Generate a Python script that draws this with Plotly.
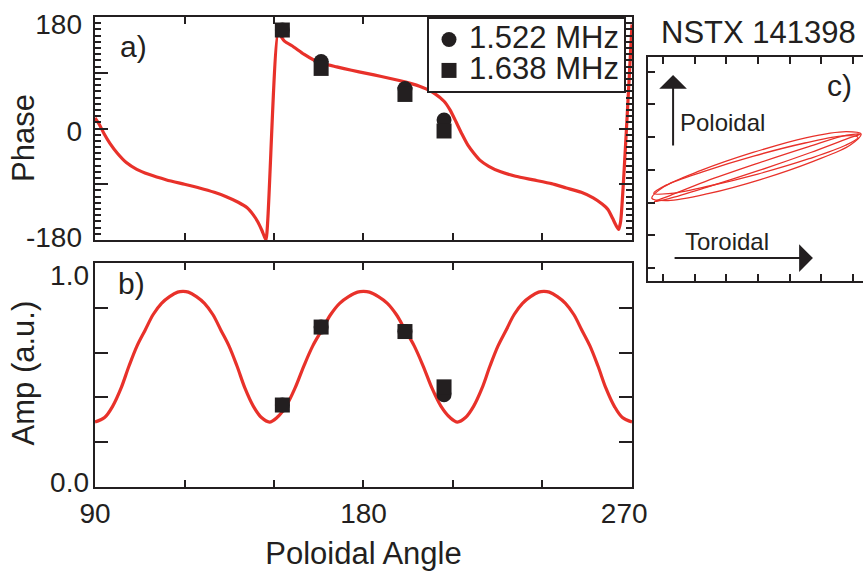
import plotly.graph_objects as go

# ---------------- data ----------------
phase_angle = [90, 91.5, 93, 95, 97.5, 100.5, 104, 108, 114, 120, 125, 130, 134, 138, 141,
               143, 144.5, 146, 147.3, 151.4, 153.5, 156.5, 160, 163.2, 167, 171, 176, 181, 186,
               192, 196, 199, 201, 204, 207, 209, 211, 213, 215, 217, 219, 222, 226, 231, 237,
               243, 248, 253, 257, 260, 262, 263.5, 264.5, 265.5, 266.2, 270]
phase_curve = [17, 6, -8, -24, -40, -55, -66, -74, -83, -90, -96, -103, -110, -119, -128,
               -139, -150, -165, -180, 154, 141, 132, 120, 111, 104, 99.5, 94, 89, 84,
               77.5, 72.5, 68, 64, 56, 44, 30, 11, -9, -27, -40, -51, -61, -70, -77, -83,
               -89, -96, -103, -112, -122, -131, -145, -155, -163, -150, 168]

amp_angle = [90, 93.2, 95.9, 98.7, 101.4, 104.1, 106.8, 109.5, 112.3, 115, 117.7, 119.5,
             121.3, 124, 126.7, 129.5, 132.2, 134.9, 137.6, 140.3, 143.1, 145.8, 148.5,
             151, 154, 157, 160, 163, 166, 169, 172, 175, 178, 180,
             182, 185, 188, 191, 194, 197, 200, 203, 206, 209, 211.5,
             214.2, 216.9, 219.7, 222.4, 225.1, 227.8, 230.5, 233.3, 236, 238.7, 240.5,
             242.3, 245, 247.7, 250.5, 253.2, 255.9, 258.6, 261.3, 264.1, 266.8, 270]
amp_curve = [0.29, 0.31, 0.36, 0.44, 0.54, 0.63, 0.70, 0.77, 0.82, 0.85, 0.87, 0.873,
             0.87, 0.85, 0.82, 0.77, 0.70, 0.63, 0.54, 0.44, 0.36, 0.31, 0.29,
             0.31, 0.36, 0.44, 0.54, 0.63, 0.70, 0.77, 0.82, 0.85, 0.87, 0.873,
             0.87, 0.85, 0.82, 0.77, 0.70, 0.63, 0.54, 0.44, 0.36, 0.31, 0.29,
             0.31, 0.36, 0.44, 0.54, 0.63, 0.70, 0.77, 0.82, 0.85, 0.87, 0.873,
             0.87, 0.85, 0.82, 0.77, 0.70, 0.63, 0.54, 0.44, 0.36, 0.31, 0.29]

series_names = ["1.522 MHz", "1.638 MHz"]
point_angle = [152.8, 165.8, 193.9, 207.0]
phase_1522 = [159, 108, 64.6, 13.7]
phase_1638 = [159, 97, 55, -4]
amp_1522 = [0.366, 0.714, 0.694, 0.412]
amp_1638 = [0.366, 0.714, 0.694, 0.447]

x_tick_vals = [90, 120, 150, 180, 210, 240, 270]
x_tick_text = ["90", "", "", "180", "", "", "270\u00a0\u00a0"]
phase_tick_vals = [-180, -90, 0, 90, 180]
phase_label_text = ["-180", "0", "180"]
amp_tick_vals = [0, 0.2, 0.4, 0.6, 0.8, 1.0]
amp_label_text = ["0.0", "1.0"]

# hodogram (toroidal vs poloidal), three overlapping loops, in tick units
loop1_tor = [6.25, 5.91, 4.74, 3.10, 1.42, 0.16, -0.35, 0.03, 1.20, 2.84, 4.50, 5.78, 6.25]
loop1_pol = [4.10, 3.76, 3.26, 2.71, 2.27, 2.06, 2.13, 2.48, 2.98, 3.53, 3.98, 4.17, 4.10]
loop2_tor = [6.23, 5.84, 4.66, 3.03, 1.40, 0.19, -0.27, 0.16, 1.33, 2.96, 4.60, 5.80, 6.23]
loop2_pol = [4.09, 3.96, 3.53, 2.98, 2.47, 2.12, 2.03, 2.19, 2.64, 3.19, 3.71, 4.06, 4.09]
loop3_tor = [6.15, 5.76, 4.61, 2.99, 1.39, 0.18, -0.29, 0.10, 1.25, 2.86, 4.48, 5.69, 6.15]
loop3_pol = [3.99, 3.75, 3.34, 2.87, 2.49, 2.27, 2.28, 2.53, 2.94, 3.42, 3.82, 4.04, 3.99]

# ---------------- style ----------------
INK = "#231F20"
RED = "#E8312A"
FONT = "Liberation Sans, Arial, Helvetica, sans-serif"

fig = go.Figure()

# panel a
fig.add_trace(go.Scatter(x=phase_angle, y=phase_curve, mode="lines",
                         line=dict(color=RED, width=3.2, shape="spline", smoothing=0.5),
                         xaxis="x", yaxis="y", showlegend=False, hoverinfo="skip"))
legend_label = '<span style="font-size:31px">{}</span>'
fig.add_trace(go.Scatter(x=point_angle, y=phase_1522, mode="markers",
                         name=legend_label.format(series_names[0]),
                         marker=dict(symbol="circle", size=15, color=INK),
                         xaxis="x", yaxis="y", legendgroup="a"))
fig.add_trace(go.Scatter(x=point_angle, y=phase_1638, mode="markers",
                         name=legend_label.format(series_names[1]),
                         marker=dict(symbol="square", size=15, color=INK),
                         xaxis="x", yaxis="y", legendgroup="b"))

# panel b
fig.add_trace(go.Scatter(x=amp_angle, y=amp_curve, mode="lines",
                         line=dict(color=RED, width=3.2, shape="spline"),
                         xaxis="x2", yaxis="y2", showlegend=False, hoverinfo="skip"))
fig.add_trace(go.Scatter(x=point_angle, y=amp_1522, mode="markers", name=series_names[0],
                         marker=dict(symbol="circle", size=15, color=INK),
                         xaxis="x2", yaxis="y2", showlegend=False, legendgroup="a"))
fig.add_trace(go.Scatter(x=point_angle, y=amp_1638, mode="markers", name=series_names[1],
                         marker=dict(symbol="square", size=15, color=INK),
                         xaxis="x2", yaxis="y2", showlegend=False, legendgroup="b"))

# empty traces that only bring the label-only axes into existence
fig.add_trace(go.Scatter(x=[], y=[], xaxis="x", yaxis="y4", showlegend=False,
                         hoverinfo="skip"))
fig.add_trace(go.Scatter(x=[], y=[], xaxis="x2", yaxis="y5", showlegend=False,
                         hoverinfo="skip"))

# panel c
for tx, ty in [(loop1_tor, loop1_pol), (loop2_tor, loop2_pol), (loop3_tor, loop3_pol)]:
    fig.add_trace(go.Scatter(x=tx, y=ty, mode="lines",
                             line=dict(color=RED, width=1.3, shape="spline", smoothing=1.0),
                             xaxis="x3", yaxis="y3", showlegend=False, hoverinfo="skip"))

tick_font = dict(family=FONT, size=28, color=INK)
common_axis = dict(showgrid=False, zeroline=False, showline=True, linecolor=INK, linewidth=2,
                   ticks="inside", tickcolor=INK, tickwidth=2, automargin=False,
                   tickfont=tick_font)
label_axis = dict(showgrid=False, zeroline=False, showline=False, ticks="", automargin=False,
                  tickmode="array", side="left", tickfont=tick_font)

fig.update_layout(
    template="none",
    width=863, height=571, autosize=False,
    margin=dict(l=95, r=0, t=17, b=84, pad=0),
    paper_bgcolor="white", plot_bgcolor="white",
    font=dict(family=FONT, color=INK),
    hovermode=False,
    xaxis=dict(domain=[0, 0.6992], anchor="y", range=[90, 270], tickmode="array",
               tickvals=x_tick_vals, ticklen=7, showticklabels=False, mirror="ticks",
               **common_axis),
    yaxis=dict(domain=[0.5255, 1.0], anchor="x", range=[-180, 180], tickmode="array",
               tickvals=phase_tick_vals, ticklen=13, mirror="ticks", showticklabels=False,
               minor=dict(dtick=10, ticks="inside", ticklen=6, tickwidth=1.5, tickcolor=INK,
                          showgrid=False),
               **common_axis),
    # tick labels of panel a, nudged inside the frame as in the original
    yaxis4=dict(overlaying="y", anchor="x", range=[-180, 180], ticklabelstandoff=12,
                tickvals=[-175, -4, 168.7], ticktext=phase_label_text, **label_axis),
    xaxis2=dict(domain=[0, 0.6992], anchor="y2", range=[90, 270], tickmode="array",
                tickvals=x_tick_vals, ticktext=x_tick_text, ticklen=7, mirror="ticks",
                title=dict(text="Poloidal Angle", font=dict(family=FONT, size=31, color=INK)),
                **common_axis),
    yaxis2=dict(domain=[0, 0.4766], anchor="x2", range=[0, 1], tickmode="array",
                tickvals=amp_tick_vals, ticklen=13, mirror="ticks", showticklabels=False,
                **common_axis),
    yaxis5=dict(overlaying="y2", anchor="x2", range=[0, 1], ticklabelstandoff=5,
                tickvals=[0.022, 0.946], ticktext=amp_label_text, **label_axis),
    xaxis3=dict(domain=[0.7201, 1.0], anchor="y3", range=[-0.47, 6.31], tick0=0, dtick=1,
                ticklen=7, showticklabels=False, mirror="ticks", **common_axis),
    yaxis3=dict(domain=[0.4383, 0.9149], anchor="x3", range=[-0.4, 6.45], tick0=0, dtick=1,
                ticklen=7, showticklabels=False, mirror=False, **common_axis),
    legend=dict(x=0.4323, y=1.0, xanchor="left", yanchor="top", bgcolor="white",
                bordercolor=INK, borderwidth=2, font=dict(family=FONT, size=21.5, color=INK),
                tracegroupgap=0, itemsizing="trace"),
    showlegend=True,
)

title_font = dict(family=FONT, size=31, color=INK)
fig.add_annotation(text="Phase", x=-0.0931, y=0.7436, xref="paper", yref="paper",
                   textangle=-90, xanchor="center", yanchor="middle", showarrow=False,
                   font=title_font)
fig.add_annotation(text="Amp (a.u.)", x=-0.0931, y=0.2426, xref="paper", yref="paper",
                   textangle=-90, xanchor="center", yanchor="middle", showarrow=False,
                   font=title_font)

ann_font = dict(family=FONT, size=30, color=INK)
fig.add_annotation(text="a)", x=0.0495, y=0.938, xref="paper", yref="paper",
                   xanchor="center", yanchor="middle", showarrow=False, font=ann_font)
fig.add_annotation(text="b)", x=0.0469, y=0.432, xref="paper", yref="paper",
                   xanchor="center", yanchor="middle", showarrow=False, font=ann_font)
fig.add_annotation(text="c)", x=0.970, y=0.855, xref="paper", yref="paper",
                   xanchor="center", yanchor="middle", showarrow=False, font=ann_font)
fig.add_annotation(text="NSTX 141398", x=0.8633, y=0.968, xref="paper", yref="paper",
                   xanchor="center", yanchor="middle", showarrow=False, font=title_font)

# direction arrows in panel c
fig.add_annotation(x=0.32, y=5.90, ax=0.32, ay=3.70, xref="x3", yref="y3",
                   axref="x3", ayref="y3", text="", showarrow=True, arrowhead=1,
                   arrowsize=2.3, arrowwidth=2, arrowcolor=INK)
fig.add_annotation(x=4.73, y=0.30, ax=0.32, ay=0.30, xref="x3", yref="y3",
                   axref="x3", ayref="y3", text="", showarrow=True, arrowhead=1,
                   arrowsize=2.3, arrowwidth=2, arrowcolor=INK)
fig.add_annotation(text="Poloidal", x=0.47, y=4.46, xref="x3", yref="y3", xanchor="left",
                   yanchor="middle", showarrow=False, font=dict(family=FONT, size=24, color=INK))
fig.add_annotation(text="Toroidal", x=0.63, y=0.80, xref="x3", yref="y3", xanchor="left",
                   yanchor="middle", showarrow=False, font=dict(family=FONT, size=24, color=INK))

fig.write_html("out.html", config={"displayModeBar": False},
               post_script="document.body.style.margin='0';document.body.style.overflow='hidden';")
